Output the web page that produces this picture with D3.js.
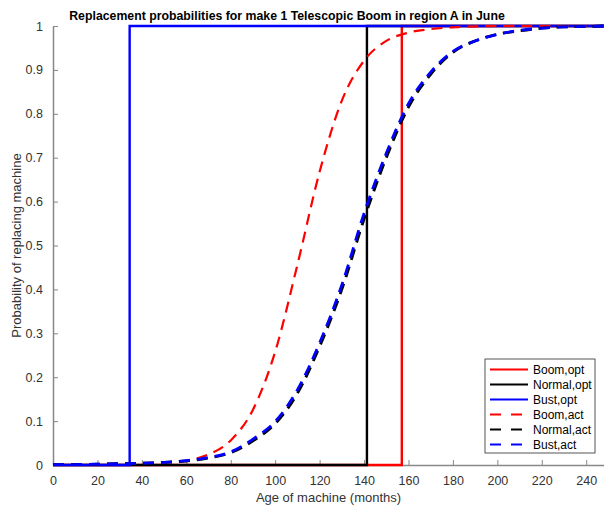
<!DOCTYPE html>
<html>
<head>
<meta charset="utf-8">
<script src="https://cdn.jsdelivr.net/npm/d3@7"></script>
<style>
  body { margin: 0; background: #fff; }
  svg { display: block; }
</style>
</head>
<body>
<div id="chart"></div>
<script>
// --- data ---
const titleText = "Replacement probabilities for make 1 Telescopic Boom in region A in June";
const xTicks = [0, 20, 40, 60, 80, 100, 120, 140, 160, 180, 200, 220, 240];
const yTicks = [0, 0.1, 0.2, 0.3, 0.4, 0.5, 0.6, 0.7, 0.8, 0.9, 1];

// optimal policies are step functions: 0 before the threshold age, 1 after
const optMonths = { boom: 157, normal: 141.3, bust: 34.5 };
const maxAge = 248;

// actual replacement probabilities (age in months)
const actAges   = [0, 10, 20, 30, 40, 50, 60, 70, 80, 90, 100, 110, 120, 130, 140, 150, 160, 170, 180, 190, 200, 210, 220, 230, 240, 248];
const boomAct   = [0.000, 0.001, 0.002, 0.003, 0.004, 0.006, 0.010, 0.024, 0.056, 0.126, 0.258, 0.456, 0.668, 0.830, 0.921, 0.966, 0.985, 0.993, 0.997, 0.999, 1.000, 1.000, 1.000, 1.000, 1.000, 1.000];
const normalAct = [0.001, 0.001, 0.002, 0.003, 0.004, 0.006, 0.009, 0.016, 0.028, 0.055, 0.094, 0.163, 0.270, 0.400, 0.560, 0.700, 0.815, 0.890, 0.940, 0.966, 0.981, 0.989, 0.995, 0.998, 0.999, 1.000];
const bustAct   = [0.001, 0.001, 0.002, 0.003, 0.004, 0.006, 0.010, 0.017, 0.030, 0.059, 0.099, 0.171, 0.278, 0.410, 0.573, 0.710, 0.823, 0.895, 0.942, 0.966, 0.981, 0.990, 0.995, 0.998, 0.999, 1.000];

const seriesNames = ["Boom,opt", "Normal,opt", "Bust,opt", "Boom,act", "Normal,act", "Bust,act"];
const seriesColors = ["#ff0000", "#000000", "#0000ff", "#ff0000", "#000000", "#0000ff"];

// --- layout ---
const W = 604, H = 510;
const margin = { top: 26, right: 0, bottom: 45, left: 53 };
const width = W - margin.left - margin.right;
const height = H - margin.top - margin.bottom;

const svg = d3.select("#chart").append("svg")
    .attr("width", W)
    .attr("height", H)
    .style("font-family", "'Liberation Sans', Arial, sans-serif");

const g = svg.append("g")
    .attr("transform", `translate(${margin.left},${margin.top})`);

const x = d3.scaleLinear().domain([0, maxAge]).range([0, width]);
const y = d3.scaleLinear().domain([0, 1]).range([height, 0]);

// build step series for the optimal curves
function stepSeries(t) {
    return [[0, 0], [t, 0], [t, 1], [maxAge, 1]];
}
const actSeries = [boomAct, normalAct, bustAct].map(vals => actAges.map((a, i) => [a, vals[i]]));
const allSeries = [
    stepSeries(optMonths.boom),
    stepSeries(optMonths.normal),
    stepSeries(optMonths.bust),
    ...actSeries
];

// --- axes (MATLAB style: inward ticks, no box) ---
const axisColor = "#888";
const labelColor = "#333";

const xAxis = g.append("g")
    .attr("transform", `translate(0,${height})`)
    .call(d3.axisBottom(x).tickValues(xTicks).tickSizeInner(-5).tickSizeOuter(0).tickPadding(11));
const yAxis = g.append("g")
    .call(d3.axisLeft(y).tickValues(yTicks).tickSizeInner(-5).tickSizeOuter(0).tickPadding(10)
        .tickFormat(d => d === 0 || d === 1 ? d3.format("d")(d) : d3.format(".1f")(d)));

[xAxis, yAxis].forEach(a => {
    a.select(".domain").attr("stroke", axisColor).attr("stroke-width", 1.5);
    a.selectAll(".tick line").attr("stroke", axisColor);
    a.selectAll(".tick text")
        .attr("fill", labelColor)
        .style("font-size", "12.5px")
        .style("font-family", "'Liberation Sans', Arial, sans-serif");
});

// --- lines ---
const line = d3.line()
    .x(d => x(d[0]))
    .y(d => y(d[1]));

allSeries.forEach((s, i) => {
    const isAct = i >= 3;
    g.append("path")
        .datum(s)
        .attr("fill", "none")
        .attr("stroke", seriesColors[i])
        .attr("stroke-width", isAct ? (i === 3 ? 2.2 : 2.8) : 2.4)
        .attr("stroke-dasharray", isAct ? "11,7" : null)
        .attr("d", isAct ? line.curve(d3.curveMonotoneX)(s) : line.curve(d3.curveLinear)(s));
});

// --- title and axis labels ---
svg.append("text")
    .attr("x", 287)
    .attr("y", 20)
    .attr("text-anchor", "middle")
    .style("font-size", "12.3px")
    .style("font-weight", "bold")
    .attr("fill", "#000")
    .text(titleText);

svg.append("text")
    .attr("x", margin.left + width / 2)
    .attr("y", 502)
    .attr("text-anchor", "middle")
    .style("font-size", "13px")
    .attr("fill", labelColor)
    .text("Age of machine (months)");

svg.append("text")
    .attr("transform", `translate(21,${margin.top + height / 2}) rotate(-90)`)
    .attr("text-anchor", "middle")
    .style("font-size", "13px")
    .attr("fill", labelColor)
    .text("Probability of replacing machine");

// --- legend ---
const legend = svg.append("g").attr("transform", "translate(485,359)");
legend.append("rect")
    .attr("width", 110)
    .attr("height", 94)
    .attr("fill", "#fff")
    .attr("stroke", "#555")
    .attr("stroke-width", 1);

seriesNames.forEach((name, i) => {
    const yy = 10.5 + i * 15;
    legend.append("line")
        .attr("x1", 5).attr("x2", 43)
        .attr("y1", yy).attr("y2", yy)
        .attr("stroke", seriesColors[i])
        .attr("stroke-width", 2.2)
        .attr("stroke-dasharray", i >= 3 ? "11,10" : null);
    legend.append("text")
        .attr("x", 48)
        .attr("y", yy + 4)
        .style("font-size", "12px")
        .attr("fill", "#000")
        .text(name);
});
</script>
</body>
</html>
